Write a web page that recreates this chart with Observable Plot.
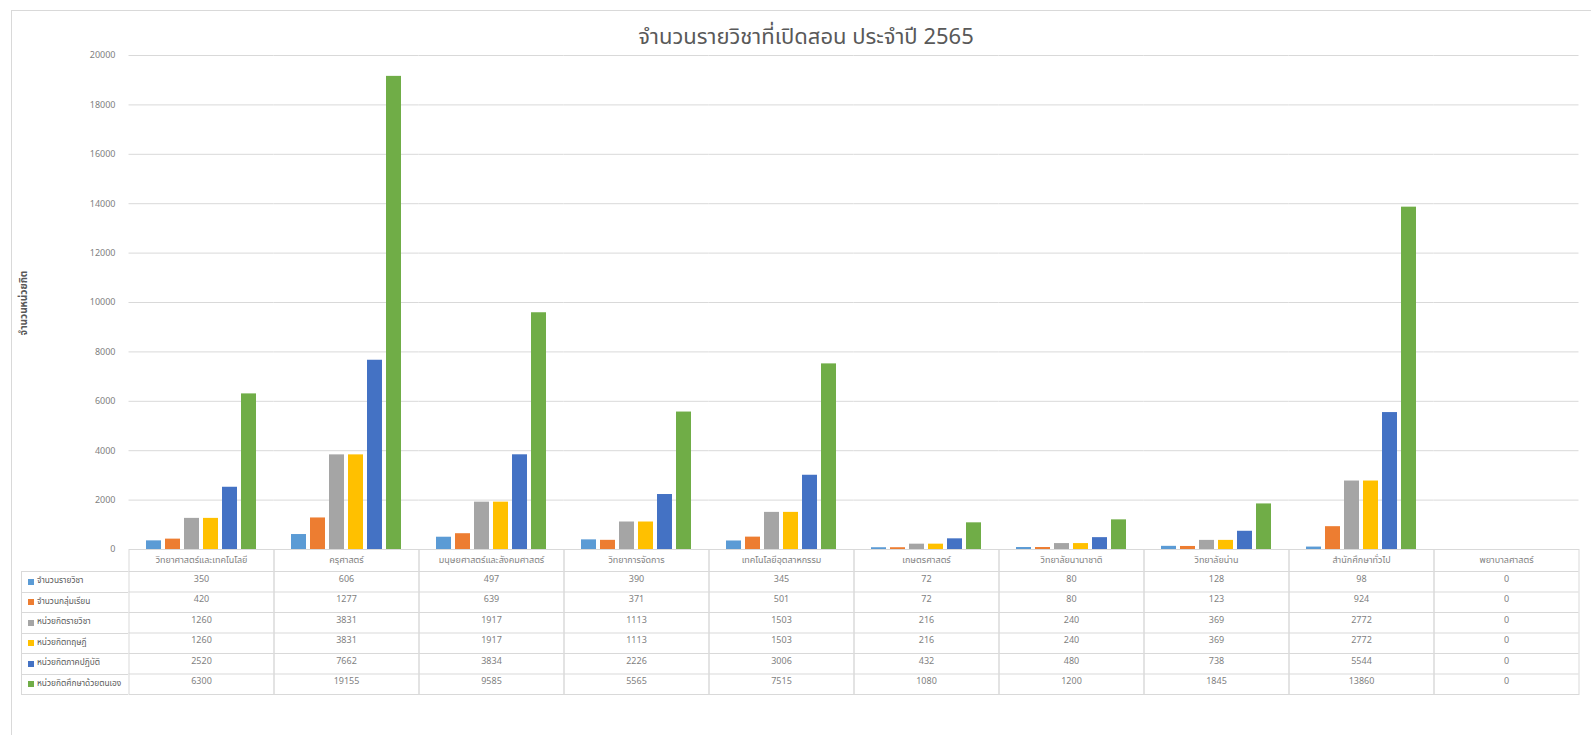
<!DOCTYPE html>
<html><head><meta charset="utf-8">
<script src="https://cdn.jsdelivr.net/npm/d3@7"></script>
<script src="https://cdn.jsdelivr.net/npm/@observablehq/plot@0.6"></script>
<style>
body{margin:0;background:#fff;font-family:"Noto Sans Thai","Noto Sans","DejaVu Sans",sans-serif;}
#wrap{position:relative;width:1591px;height:735px;overflow:hidden;}
#border{position:absolute;left:11px;top:10px;width:1600px;height:740px;border-top:1px solid #d9d9d9;border-left:1px solid #d9d9d9;}
#title{position:absolute;left:0;top:24px;width:1612px;text-align:center;font-size:22px;line-height:28px;color:#595959;}
#ylabel{position:absolute;left:24px;top:303px;transform:translate(-50%,-50%) rotate(-90deg);font-size:10px;font-weight:bold;color:#595959;white-space:nowrap;}
#chart{position:absolute;left:0;top:0;}
#legend{position:absolute;left:21px;top:571px;width:107px;}
.lrow{position:relative;height:20.5px;box-sizing:border-box;border-top:1px solid #d9d9d9;border-left:1px solid #d9d9d9;font-size:8.3px;line-height:18.5px;color:#595959;white-space:nowrap;}
.lrow:last-child{border-bottom:1px solid #d9d9d9;height:21.5px;}
.sw{position:absolute;left:6px;top:6.5px;width:6px;height:6px;}
.lt{position:absolute;left:15px;top:0;}
</style></head>
<body>
<div id="wrap">
<div id="border"></div>
<div id="chart"></div>
<div id="title"></div>
<div id="ylabel"></div>
<div id="legend"></div>
</div>
<script>
const titleText = "จำนวนรายวิชาที่เปิดสอน ประจำปี 2565";
const yLabel = "จำนวนหน่วยกิต";
const categories = ["วิทยาศาสตร์และเทคโนโลยี","ครุศาสตร์","มนุษยศาสตร์และสังคมศาสตร์","วิทยาการจัดการ","เทคโนโลยีอุตสาหกรรม","เกษตรศาสตร์","วิทยาลัยนานาชาติ","วิทยาลัยน่าน","สำนักศึกษาทั่วไป","พยาบาลศาสตร์"];
const seriesNames = ["จำนวนรายวิชา","จำนวนกลุ่มเรียน","หน่วยกิตรายวิชา","หน่วยกิตทฤษฎี","หน่วยกิตภาคปฏิบัติ","หน่วยกิตศึกษาด้วยตนเอง"];
const seriesColors = ["#5B9BD5","#ED7D31","#A5A5A5","#FFC000","#4472C4","#70AD47"];
const courses      = [350, 606, 497, 390, 345, 72, 80, 128, 98, 0];
const groups       = [420, 1277, 639, 371, 501, 72, 80, 123, 924, 0];
const creditCourse = [1260, 3831, 1917, 1113, 1503, 216, 240, 369, 2772, 0];
const creditTheory = [1260, 3831, 1917, 1113, 1503, 216, 240, 369, 2772, 0];
const creditPract  = [2520, 7662, 3834, 2226, 3006, 432, 480, 738, 5544, 0];
const creditSelf   = [6300, 19155, 9585, 5565, 7515, 1080, 1200, 1845, 13860, 0];
const yTicks = [0,2000,4000,6000,8000,10000,12000,14000,16000,18000,20000];

const seriesValues = [courses, groups, creditCourse, creditTheory, creditPract, creditSelf];
const data = [];
categories.forEach((c, ci) => seriesNames.forEach((s, si) => data.push({category: c, series: s, value: seriesValues[si][ci]})));

document.getElementById("title").textContent = titleText;
document.getElementById("ylabel").textContent = yLabel;

const legend = document.getElementById("legend");
seriesNames.forEach((s, i) => {
  const row = document.createElement("div"); row.className = "lrow";
  const sw = document.createElement("div"); sw.className = "sw"; sw.style.background = seriesColors[i];
  const t = document.createElement("div"); t.className = "lt"; t.textContent = s;
  row.appendChild(sw); row.appendChild(t); legend.appendChild(row);
});

const lineColor = "#d9d9d9";
const ext = {insetLeft: -14.5, insetRight: -14.5};
const rowTops = [22, 42.5, 63, 83.5, 104, 124.5];

const marks = [
  Plot.ruleY(yTicks.filter(t => t > 0), {stroke: lineColor, ...ext}),
  Plot.barY(data, {fx: "category", x: "series", y: "value", fill: "series"}),
  Plot.frame({stroke: lineColor, insetTop: 494, insetBottom: -145, ...ext}),
  ...rowTops.map(o => Plot.ruleY([0], {dy: o, stroke: lineColor, ...ext})),
  ...seriesNames.map((s, i) => Plot.text(data.filter(d => d.series === s), {
    fx: "category", text: d => String(d.value), frameAnchor: "bottom",
    dy: rowTops[i] + 10.25, fill: "#7f7f7f", fontSize: 9
  }))
];

const chart = Plot.plot({
  width: 1591, height: 735,
  marginTop: 55, marginBottom: 186, marginLeft: 128, marginRight: 13,
  style: {fontSize: "9px", fontFamily: "'Noto Sans Thai','Noto Sans','DejaVu Sans',sans-serif", color: "#7f7f7f", background: "transparent"},
  fx: {domain: categories, paddingInner: 0.2, paddingOuter: 0.1, axis: "bottom", tickSize: 0, tickPadding: 7, label: null},
  x: {domain: seriesNames, axis: null, paddingInner: 0.23, paddingOuter: 0.05},
  y: {domain: [0, 20000], ticks: yTicks, tickFormat: d3.format("d"), tickSize: 0, tickPadding: 28, label: null},
  color: {domain: seriesNames, range: seriesColors},
  marks
});
document.getElementById("chart").appendChild(chart);
</script>
</body></html>
